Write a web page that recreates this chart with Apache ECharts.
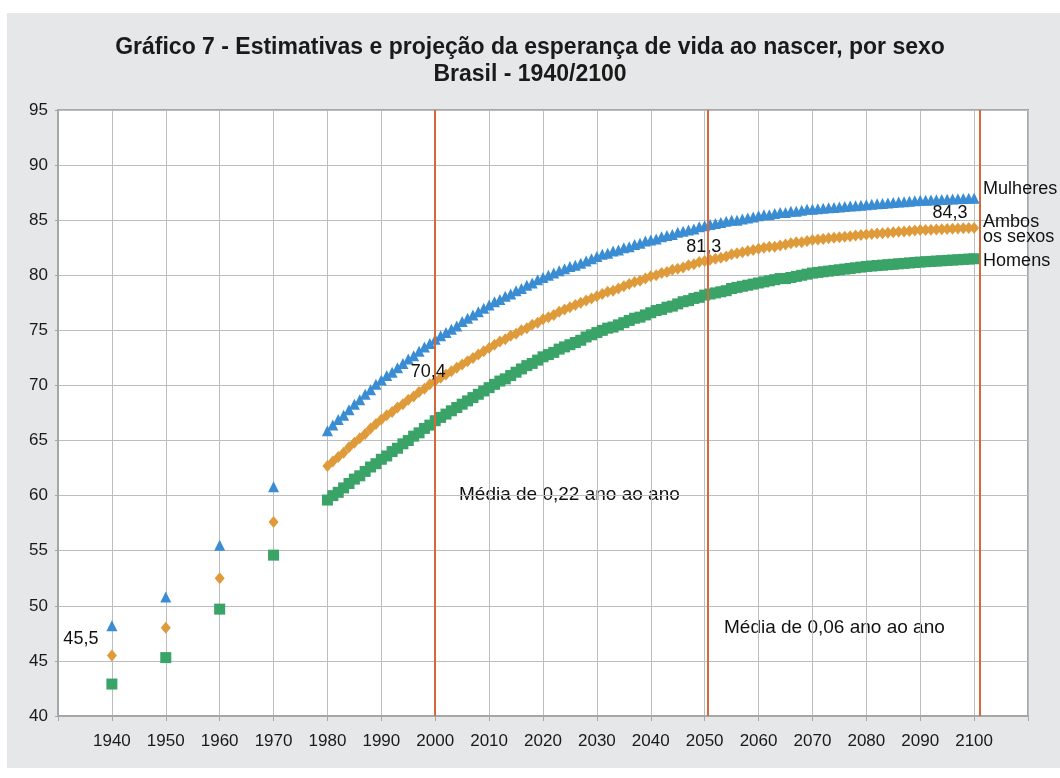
<!DOCTYPE html>
<html>
<head>
<meta charset="utf-8">
<script src="https://cdn.jsdelivr.net/npm/echarts@6/dist/echarts.min.js"></script>
<style>
  html, body { margin: 0; padding: 0; background: #fff; }
  #bg { position: absolute; left: 7px; top: 13px; width: 1053px; height: 755px; background: #e6e7e8; }
  #chart { position: absolute; left: 0; top: 0; width: 1060px; height: 778px; }
</style>
</head>
<body>
<div id="bg"></div>
<div id="chart"></div>
<script>
// estimativas (decenais)
var estYears = [1940, 1950, 1960, 1970];
var estMulheres = [48.2, 50.8, 55.5, 60.8];
var estAmbos = [45.5, 48.0, 52.5, 57.6];
var estHomens = [42.9, 45.3, 49.7, 54.6];

// projeção anual 1980-2100
var projStart = 1980;
var projMulheres = [
  65.9, 66.4, 66.9, 67.3, 67.8, 68.3, 68.7, 69.2, 69.6, 70.1, 70.5,
  70.9, 71.2, 71.6, 72.0, 72.4, 72.7, 73.1, 73.5, 73.8, 74.2,
  74.5, 74.8, 75.1, 75.4, 75.8, 76.1, 76.4, 76.7, 77.0, 77.3,
  77.6, 77.8, 78.1, 78.3, 78.6, 78.8, 79.1, 79.3, 79.6, 79.8,
  80.0, 80.2, 80.4, 80.6, 80.8, 80.9, 81.1, 81.3, 81.5, 81.7,
  81.9, 82.0, 82.2, 82.3, 82.5, 82.6, 82.8, 82.9, 83.1, 83.2,
  83.3, 83.5, 83.6, 83.7, 83.9, 84.0, 84.1, 84.2, 84.4, 84.5,
  84.6, 84.7, 84.8, 84.9, 85.0, 85.0, 85.1, 85.2, 85.3, 85.4,
  85.5, 85.5, 85.6, 85.7, 85.7, 85.8, 85.8, 85.9, 86.0, 86.0,
  86.04, 86.08, 86.12, 86.16, 86.2, 86.24, 86.28, 86.32, 86.36, 86.4,
  86.44, 86.48, 86.52, 86.56, 86.6, 86.64, 86.68, 86.72, 86.76, 86.8,
  86.82, 86.84, 86.86, 86.88, 86.9, 86.92, 86.94, 86.96, 86.98, 87.0
];
var projAmbos = [
  62.7, 63.1, 63.5, 63.9, 64.4, 64.8, 65.2, 65.6, 66.1, 66.5, 66.9,
  67.3, 67.6, 68.0, 68.3, 68.7, 69.0, 69.4, 69.7, 70.1, 70.4,
  70.7, 71.0, 71.3, 71.6, 71.9, 72.2, 72.5, 72.8, 73.1, 73.4,
  73.7, 74.0, 74.2, 74.5, 74.7, 75.0, 75.2, 75.5, 75.7, 76.0,
  76.2, 76.4, 76.7, 76.9, 77.1, 77.3, 77.5, 77.7, 77.9, 78.1,
  78.3, 78.5, 78.6, 78.8, 79.0, 79.2, 79.4, 79.5, 79.7, 79.9,
  80.0, 80.2, 80.3, 80.5, 80.6, 80.7, 80.9, 81.0, 81.2, 81.3,
  81.4, 81.5, 81.6, 81.7, 81.9, 82.0, 82.1, 82.2, 82.3, 82.4,
  82.5, 82.6, 82.6, 82.7, 82.8, 82.9, 83.0, 83.0, 83.1, 83.2,
  83.25, 83.3, 83.35, 83.4, 83.45, 83.5, 83.55, 83.6, 83.65, 83.7,
  83.74, 83.78, 83.82, 83.86, 83.9, 83.94, 83.98, 84.02, 84.06, 84.1,
  84.12, 84.14, 84.16, 84.18, 84.2, 84.22, 84.24, 84.26, 84.28, 84.3
];
var projHomens = [
  59.6, 60.0, 60.3, 60.7, 61.1, 61.5, 61.8, 62.2, 62.6, 62.9, 63.3,
  63.6, 64.0, 64.3, 64.7, 65.0, 65.4, 65.7, 66.1, 66.4, 66.8,
  67.1, 67.4, 67.7, 68.0, 68.3, 68.6, 68.9, 69.2, 69.5, 69.8,
  70.1, 70.4, 70.6, 70.9, 71.2, 71.5, 71.8, 72.0, 72.3, 72.6,
  72.8, 73.0, 73.3, 73.5, 73.7, 73.9, 74.1, 74.4, 74.6, 74.8,
  75.0, 75.2, 75.3, 75.5, 75.7, 75.9, 76.1, 76.2, 76.4, 76.6,
  76.8, 76.9, 77.1, 77.2, 77.4, 77.6, 77.7, 77.9, 78.0, 78.2,
  78.3, 78.4, 78.5, 78.6, 78.8, 78.9, 79.0, 79.1, 79.2, 79.3,
  79.4, 79.5, 79.6, 79.7, 79.7, 79.8, 79.9, 80.0, 80.1, 80.2,
  80.26, 80.32, 80.38, 80.44, 80.5, 80.56, 80.62, 80.68, 80.74, 80.8,
  80.84, 80.88, 80.92, 80.96, 81.0, 81.04, 81.08, 81.12, 81.16, 81.2,
  81.23, 81.26, 81.29, 81.32, 81.35, 81.38, 81.41, 81.44, 81.47, 81.5
];

// rótulos de valor (ambos os sexos)
var labelYears = [1940, 2000, 2050, 2100];
var labelTexts = ["45,5", "70,4", "81,3", "84,3"];
var labelOffsets = [[-31, -1], [-7, 6], [-1, 1], [-24, 0]];

// linhas verticais
var markYears = [2000, 2050.6, 2101];

var FONT = "'Liberation Sans', Arial, sans-serif";

function buildData(est, proj, withLabels) {
  var out = [];
  for (var i = 0; i < estYears.length; i++) out.push([estYears[i], est[i]]);
  for (var j = 0; j < proj.length; j++) out.push([projStart + j, proj[j]]);
  if (withLabels) {
    out = out.map(function (d) {
      var k = labelYears.indexOf(d[0]);
      if (k < 0) return d;
      return {
        value: d,
        label: {
          show: true, position: "top", distance: 0, offset: labelOffsets[k],
          formatter: labelTexts[k], color: "#111", fontSize: 18, fontFamily: FONT
        }
      };
    });
  }
  return out;
}

function nameMark(x, y, text, dy) {
  return {
    coord: [x, y], symbol: "circle", symbolSize: 0,
    label: {
      show: true, position: "right", distance: 9, offset: [0, dy],
      formatter: text, color: "#111", fontSize: 18, lineHeight: 15, fontFamily: FONT
    }
  };
}

var chart = echarts.init(document.getElementById("chart"));

var option = {
  animation: false,
  backgroundColor: "transparent",
  textStyle: { fontFamily: FONT },
  title: {
    text: "Gráfico 7 - Estimativas e projeção da esperança de vida ao nascer, por sexo\nBrasil - 1940/2100",
    left: "center",
    top: 29,
    textStyle: { fontSize: 23, fontWeight: "bold", color: "#1a1a1a", lineHeight: 27, fontFamily: FONT }
  },
  grid: {
    left: 58, right: 32, top: 110, bottom: 62,
    show: true, backgroundColor: "#fff", borderColor: "#a6a6a6", borderWidth: 2
  },
  xAxis: {
    type: "value", min: 1930, max: 2110, interval: 10,
    axisLine: { lineStyle: { color: "#a6a6a6", width: 2 } },
    axisTick: { show: true, length: 5, lineStyle: { color: "#a6a6a6" } },
    splitLine: { show: true, lineStyle: { color: "#bdbdbd", width: 1 } },
    axisLabel: {
      color: "#1a1a1a", fontSize: 17, margin: 17,
      formatter: function (v) { return (v === 1930 || v === 2110) ? "" : String(v); }
    }
  },
  yAxis: {
    type: "value", min: 40, max: 95, interval: 5,
    axisLine: { show: true, lineStyle: { color: "#a6a6a6", width: 2 } },
    axisTick: { show: true, length: 3, lineStyle: { color: "#a6a6a6" } },
    splitLine: { show: true, lineStyle: { color: "#bdbdbd", width: 1 } },
    axisLabel: { color: "#1a1a1a", fontSize: 17, margin: 10 }
  },
  graphic: [
    { type: "text", left: 459, top: 485, style: { text: "Média de 0,22 ano ao ano", fill: "#111", font: "19px " + FONT } },
    { type: "text", left: 724, top: 618, style: { text: "Média de 0,06 ano ao ano", fill: "#111", font: "19px " + FONT } }
  ],
  series: [
    {
      name: "Homens", type: "scatter", symbol: "rect", symbolSize: 11,
      itemStyle: { color: "#3aa367", opacity: 1 },
      data: buildData(estHomens, projHomens, false),
      markPoint: { silent: true, data: [nameMark(2100, projHomens[projHomens.length - 1], "Homens", 2)] }
    },
    {
      name: "Ambos os sexos", type: "scatter", symbol: "diamond", symbolSize: [10, 12],
      itemStyle: { color: "#df9a3a", opacity: 1 },
      data: buildData(estAmbos, projAmbos, true),
      markPoint: { silent: true, data: [nameMark(2100, projAmbos[projAmbos.length - 1], "Ambos\nos sexos", 2)] },
      markLine: {
        silent: true, symbol: ["none", "none"], label: { show: false },
        lineStyle: { color: "#d4693b", width: 2, type: "solid" },
        data: markYears.map(function (y) { return { xAxis: y }; })
      }
    },
    {
      name: "Mulheres", type: "scatter", symbol: "triangle", symbolSize: 11,
      itemStyle: { color: "#3a8dd3", opacity: 1 },
      data: buildData(estMulheres, projMulheres, false),
      markPoint: { silent: true, data: [nameMark(2100, projMulheres[projMulheres.length - 1], "Mulheres", -9)] }
    }
  ]
};

chart.setOption(option);
</script>
</body>
</html>
